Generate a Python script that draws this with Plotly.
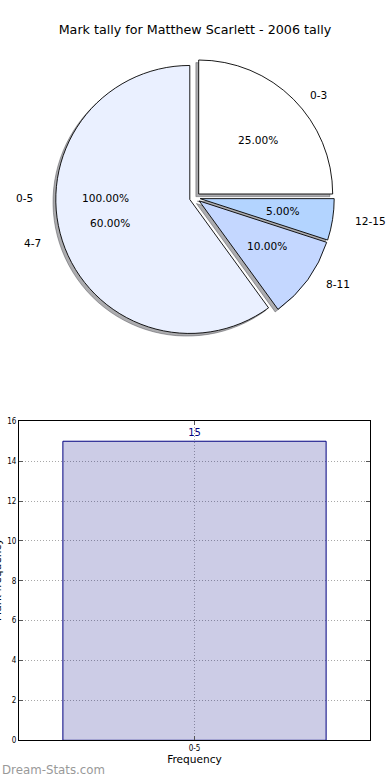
import math
import plotly.graph_objects as go

# ---------------- data ----------------
title_text = "Mark tally for Matthew Scarlett - 2006 tally"
pie_labels = ["0-3", "4-7", "8-11", "12-15"]
pie_values = [25, 60, 10, 5]
pie_colors = ["#FFFFFF", "#EAF0FF", "#C4D7FF", "#B3D4FF"]
overall_label = "0-5"
overall_pct = 100.0

bar_categories = ["0-5"]
bar_values = [15]
y_tick_values = [0, 2, 4, 6, 8, 10, 12, 14, 16]
x_axis_title = "Frequency"
y_axis_title = "Mark frequency"
watermark = "Dream-Stats.com"

# ---------------- layout constants ----------------
W, H = 390, 780
FONT = "DejaVu Sans"
pie_cx, pie_cy = 194.9, 197.8      # px
pie_r = 134.0                      # px
explode = 0.04
text_rx, text_ry = 140.0, 128.0    # px radii used for text placement

box = 2 * (1 + explode) * pie_r
pie_domain = dict(
    x=[(pie_cx - box / 2) / W, (pie_cx + box / 2) / W],
    y=[1 - (pie_cy + box / 2) / H, 1 - (pie_cy - box / 2) / H],
)
shadow_dx, shadow_dy = -2.8, 2.6
shadow_domain = dict(
    x=[pie_domain["x"][0] + shadow_dx / W, pie_domain["x"][1] + shadow_dx / W],
    y=[pie_domain["y"][0] - shadow_dy / H, pie_domain["y"][1] - shadow_dy / H],
)

fig = go.Figure()

# shadow pie
fig.add_trace(go.Pie(
    labels=pie_labels, values=pie_values, sort=False,
    direction="counterclockwise", rotation=0,
    pull=[explode] * len(pie_values),
    marker=dict(colors=["rgba(70,72,77,0.45)"] * len(pie_values),
                line=dict(color="rgba(70,72,77,0.45)", width=1)),
    textinfo="none", hoverinfo="skip", showlegend=False,
    domain=shadow_domain,
))
# main pie
fig.add_trace(go.Pie(
    labels=pie_labels, values=pie_values, sort=False,
    direction="counterclockwise", rotation=0,
    pull=[explode] * len(pie_values),
    marker=dict(colors=pie_colors, line=dict(color="black", width=0.9)),
    textinfo="none", showlegend=False,
    domain=pie_domain,
))

annotations = []


def pie_text(angle_deg, label, pct):
    a = math.radians(angle_deg)
    c, s = math.cos(a), math.sin(a)
    lx = pie_cx + (explode + 1.1) * text_rx * c
    ly = pie_cy - (explode + 1.1) * text_ry * s
    px = pie_cx + (explode + 0.6) * text_rx * c
    py = pie_cy - (explode + 0.6) * text_ry * s
    annotations.append(dict(
        x=lx / W, y=1 - ly / H, xref="paper", yref="paper", text=label,
        showarrow=False, xanchor="left" if c > 0 else "right", yanchor="middle",
        font=dict(family=FONT, size=10.6, color="black")))
    annotations.append(dict(
        x=px / W, y=1 - py / H, xref="paper", yref="paper", text="%.2f%%" % pct,
        showarrow=False, xanchor="center", yanchor="middle",
        font=dict(family=FONT, size=10.6, color="black")))


total = sum(pie_values)
cum = 0.0
for lab, v in zip(pie_labels, pie_values):
    frac = v / total
    pie_text(360 * (cum + frac / 2), lab, 100 * frac)
    cum += frac
pie_text(360 * (overall_pct / 100) / 2, overall_label, overall_pct)

# bar chart
fig.add_trace(go.Bar(
    x=bar_categories, y=bar_values, width=0.75,
    marker=dict(color="rgba(0,0,128,0.2)", line=dict(color="navy", width=1)),
    text=[str(v) for v in bar_values], textposition="outside",
    textfont=dict(family=FONT, size=10, color="navy"),
    cliponaxis=False, showlegend=False, xaxis="x", yaxis="y",
))

axis_common = dict(
    showline=True, linecolor="black", linewidth=1, mirror="ticks",
    ticks="inside", ticklen=4, tickcolor="#555555",
    showgrid=True, gridcolor="#a8a8a8", griddash="1px,2px", gridwidth=1,
    zeroline=False,
    tickfont=dict(family="DejaVu Sans Condensed, " + FONT, size=8, color="black"),
)

fig.update_layout(
    width=W, height=H,
    margin=dict(l=0, r=0, t=0, b=0),
    paper_bgcolor="white", plot_bgcolor="white",
    title=dict(text=title_text, x=0.5, xanchor="center", y=1 - 30 / H,
               yanchor="middle", font=dict(family=FONT, size=12.7, color="black")),
    xaxis=dict(domain=[19 / W, 370 / W], anchor="y", type="category",
               range=[-0.5, 0.5],
               title=dict(text=x_axis_title, standoff=2,
                          font=dict(family=FONT, size=10.6, color="black")),
               automargin=False, **axis_common),
    yaxis=dict(domain=[1 - 740.3 / H, 1 - 421.3 / H], anchor="x",
               range=[0, 16], tickvals=y_tick_values, automargin=False,
               **axis_common),
    annotations=annotations + [
        dict(x=0, y=1 - 580 / H, xref="paper", yref="paper", text=y_axis_title,
             textangle=-90, showarrow=False, xanchor="center", yanchor="middle",
             xshift=-3, font=dict(family=FONT, size=10.6, color="black")),
        dict(x=0, y=1 - 770 / H, xref="paper", yref="paper", text=watermark,
             showarrow=False, xanchor="left", yanchor="middle",
             font=dict(family=FONT, size=11.8, color="#999999")),
    ],
)

fig.write_html("out.html", config={"displayModeBar": False},
               post_script="document.body.style.margin='0';")
